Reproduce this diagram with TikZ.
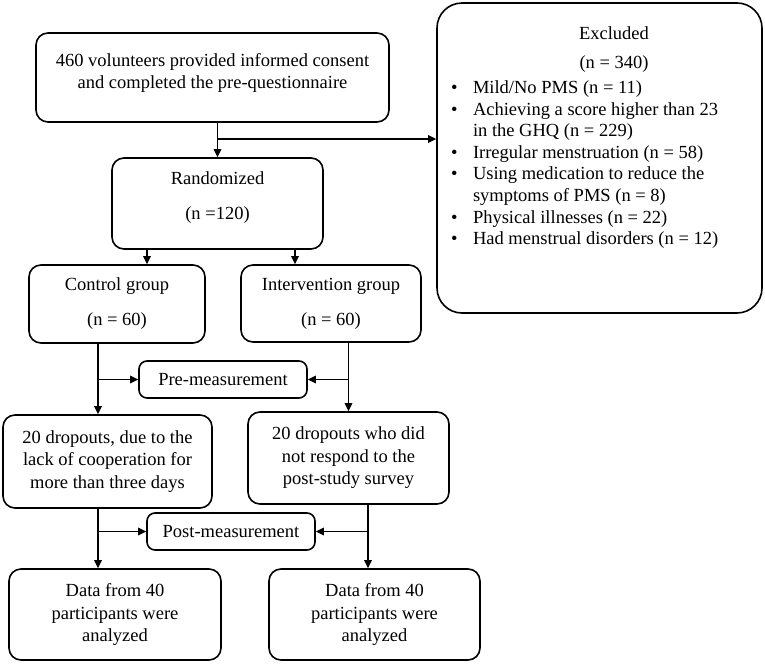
\documentclass[tikz,border=0pt]{standalone}
\usepackage{fontspec}
\setmainfont{Liberation Serif}
\usepackage{tikz}
\usetikzlibrary{arrows, arrows.meta}
\newcommand{\exitem}[1]{\par\hangindent=36pt\hangafter=1\noindent\hspace*{14pt}\makebox[22pt][l]{\textbullet}#1}

\begin{document}
\begin{tikzpicture}[x=1pt, y=-1pt, font=\fontsize{18.5}{22.5}\selectfont, line width=1.6pt, >={Triangle[length=8pt,width=7.5pt]}]
\tikzstyle{box}=[draw, rounded corners=12pt, align=center, inner sep=0pt]
\tikzstyle{small}=[box, rounded corners=8pt, minimum width=168pt, minimum height=37pt]
\tikzstyle{exbox}=[draw, rounded corners=25pt, inner sep=0pt, minimum width=325pt, minimum height=310pt]
\useasboundingbox (0,0) rectangle (765,664);

\node[box, minimum width=353pt, minimum height=89pt] (consent) at (212.5,77.5) {460 volunteers provided informed consent\\ and completed the pre-questionnaire\\[-9pt]\mbox{}};
\node[box, minimum width=211pt, minimum height=91pt] (rand) at (217.5,203.5) {Randomized\\[13pt] (n =120)\\[-7pt]\mbox{}};
\node[box, minimum width=176pt, minimum height=78pt] (ctrl) at (117,304) {Control group\\[12.5pt] (n = 60)};
\node[box, minimum width=180pt, minimum height=77pt] (intv) at (331,303.5) {Intervention group\\[12.5pt] (n = 60)};
\node[small] (pre) at (223,379.5) {Pre-measurement};
\node[box, minimum width=209pt, minimum height=93pt] (dropl) at (107.5,461.5) {20 dropouts, due to the\\ lack of cooperation for\\ more than three days};
\node[box, minimum width=201pt, minimum height=92pt] (dropr) at (348.5,458) {20 dropouts who did\\ not respond to the\\ post-study survey};
\node[small] (post) at (231,531.5) {Post-measurement};
\node[box, minimum width=212pt, minimum height=91pt] (datal) at (115,614.5) {Data from 40\\ participants were\\ analyzed};
\node[box, minimum width=211pt, minimum height=91pt] (datar) at (374.5,614.5) {Data from 40\\ participants were\\ analyzed};

% excluded list
\node[exbox] (excl) at (599.5,158) {\begin{minipage}[c][310pt][t]{325pt}
\fontsize{18.5}{21.6}\selectfont
\vspace*{23.4pt}
\noindent\makebox[325pt]{\hspace*{29pt}Excluded}\par
\vspace{8pt}
\noindent\makebox[325pt]{\hspace*{29pt}(n = 340)}\par
\vspace{3pt}
\exitem{Mild/No PMS (n = 11)}
\exitem{Achieving a score higher than 23\\ in the GHQ (n = 229)}
\exitem{Irregular menstruation (n = 58)}
\exitem{Using medication to reduce the\\ symptoms of PMS (n = 8)}
\exitem{Physical illnesses (n = 22)}
\exitem{Had menstrual disorders (n = 12)}\par
\end{minipage}};

\draw[->] (consent.south -| rand.north) -- (rand.north);
\coordinate (j0) at (rand.north |- 0,139);
\draw[->] (j0) -- (j0 -| excl.west);

\coordinate (gl) at ([xshift=30pt]ctrl.north);
\coordinate (gr) at ([xshift=-36pt]intv.north);
\draw[->] (rand.south -| gl) -- (gl);
\draw[->] (rand.south -| gr) -- (gr);

\coordinate (vl) at ([xshift=-9.5pt]dropl.north);
\coordinate (vr) at (dropr.north);
\draw[->] (ctrl.south -| vl) -- (vl);
\draw[->] (vl |- pre.west) -- (pre.west);
\draw[->] (intv.south -| vr) -- (vr);
\draw[->] (vr |- pre.east) -- (pre.east);

\coordinate (wr) at ([xshift=-6.5pt]datar.north);
\draw[->] (dropl.south -| vl) -- (datal.north -| vl);
\draw[->] (vl |- post.west) -- (post.west);
\draw[->] (dropr.south -| wr) -- (wr);
\draw[->] (wr |- post.east) -- (post.east);

\end{tikzpicture}
\end{document}
